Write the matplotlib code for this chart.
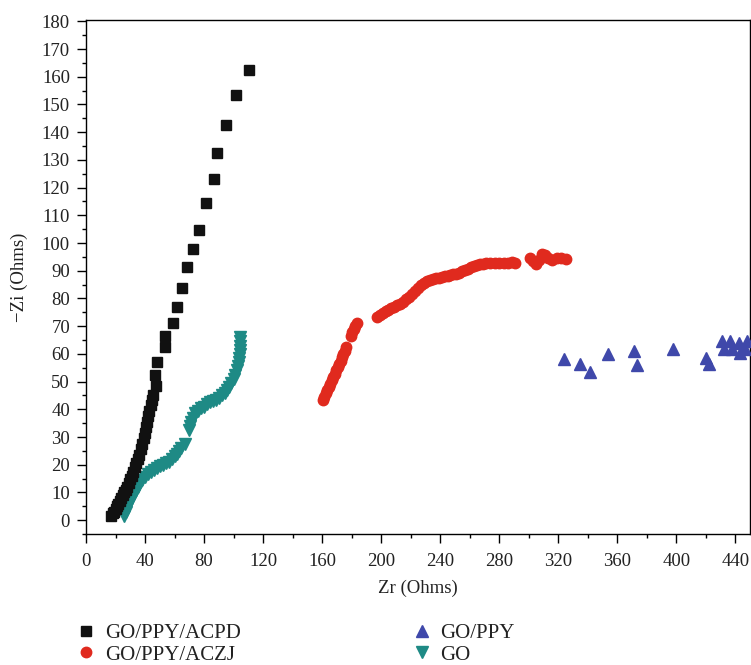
import matplotlib
matplotlib.use("Agg")
import matplotlib.pyplot as plt
from matplotlib.ticker import MultipleLocator

plt.rcParams["font.family"] = ["Liberation Serif", "DejaVu Serif"]

# ================== DATA ==================
acpd_x = [17, 18, 19, 20, 21, 22, 23, 24, 25, 26, 27, 28, 29, 30, 31, 32, 33, 34, 35, 36,
          37, 38, 39, 40, 40.8, 41.5, 42.2, 43, 43.8, 44.6, 45.5, 47.7, 46.8, 48.4, 53.6,
          53.3, 58.8, 61.7, 65.3, 68.5, 72.5, 76.4, 81.4, 86.6, 88.8, 95.1, 101.9, 110.7]
acpd_y = [1.5, 2.5, 3, 4, 5, 6, 7, 8, 9, 10, 11, 12, 13.5, 15, 16, 17.5, 19, 20.5, 22, 23.5,
          25.5, 27.5, 29.5, 31.5, 33.5, 35.5, 37.5, 39.5, 41.5, 43.5, 45, 48.3, 52.3, 56.9, 62.3,
          66.6, 71.3, 77, 83.8, 91.2, 98, 104.8, 114.6, 123, 132.6, 142.6, 153.3, 162.5]

aczj_x = [160.5, 161.5, 162.5, 163.5, 164.5, 165.5, 166.5, 167.5, 168.5, 169.5, 170.5, 171.5,
          172.5, 173.5, 174.5, 175.5, 176.5,
          179.5, 180.5, 181.5, 182.5, 183.5,
          197, 199, 201, 203, 205, 207, 209, 211, 213, 215, 217, 219, 221, 223, 225, 227, 229,
          231, 233, 235, 237, 239, 241, 243, 245, 247, 249, 251, 253, 255, 257, 259, 261, 263,
          265, 267, 269, 271, 274, 277, 280, 283, 286, 289, 291,
          301, 303, 305, 307, 309, 311, 313, 316, 319, 322, 325]
aczj_y = [43.5, 44.5, 45.7, 46.9, 48, 49.2, 50.4, 51.6, 52.8, 54, 55.2, 56.4,
          57.6, 58.8, 60, 61.2, 62.4,
          66.5, 67.8, 69, 70, 71,
          73.4, 74, 74.6, 75.3, 76, 76.5, 77, 77.5, 78, 78.8, 79.7, 80.6, 81.6, 82.7, 83.8, 84.8, 85.6,
          86.2, 86.6, 86.9, 87.2, 87.5, 87.8, 88, 88.2, 88.5, 88.8, 89, 89.3, 89.8, 90.3, 90.8, 91.3, 91.7,
          92.2, 92.5, 92.6, 92.8, 92.9, 92.7, 92.9, 92.8, 92.9, 93, 92.8,
          94.5, 93.5, 92.5, 94, 96, 95.5, 94.5, 94, 94.5, 94.6, 94.3]

ppy_x = [323.6, 334.5, 341.7, 353.7, 371.1, 373.3, 397.7, 420.1, 421.9, 431, 432.1,
         436.6, 437.8, 442.3, 443.4, 447.9, 446.8]
ppy_y = [58.2, 56.4, 53.4, 60, 61.2, 55.9, 61.6, 58.6, 56.5, 64.6, 61.6,
         64.6, 61.6, 64, 60.4, 64.6, 61.6]

go_x = [26, 27, 28, 29, 30, 31, 32, 33, 34, 35, 36, 37, 38, 40, 42, 44, 46, 48, 50, 52,
        54, 56, 58, 60, 61.5, 63, 64.5, 67, 69.5, 70.5, 71.5, 72.5, 74, 76, 78, 80, 82, 84, 86, 88,
        90, 92, 94, 95.5, 97, 98.5, 100, 101, 102, 102.8, 103.4, 104, 104.3, 104.5, 104.6, 104.6, 104.5]
go_y = [1.5, 3, 4.5, 6, 7, 8, 9, 10, 11, 12, 13, 14, 14.5, 15.5, 16.5, 17.3, 18, 18.8, 19.5, 20,
        20.5, 21, 22, 23, 24, 25, 26, 27.5, 32.5, 34, 35.5, 37, 38.5, 39.5, 40.5, 41, 41.8, 42.5, 43, 43.5,
        44.2, 45, 46, 47, 48, 49.5, 51, 52.5, 54, 55.5, 57, 58.5, 60, 61.5, 63, 64.5, 66]

labels = ["GO/PPY/ACPD", "GO/PPY/ACZJ", "GO/PPY", "GO"]

# ================== FIGURE ==================
fig = plt.figure(figsize=(7.51, 6.65), dpi=100)
ax = fig.add_axes([0.1145, 0.197, 0.8842, 0.773])

h1, = ax.plot(acpd_x, acpd_y, "s", color="#111111", ms=7.5, ls="none", zorder=4)
h2, = ax.plot(aczj_x, aczj_y, "o", color="#e02a1e", ms=7.5, ls="none", zorder=3)
h3, = ax.plot(ppy_x, ppy_y, "^", color="#3f48aa", ms=8.5, ls="none", zorder=3)
h4, = ax.plot(go_x, go_y, "v", color="#1e8a85", ms=8.5, ls="none", zorder=3)

ax.set_xlim(0, 450)
ax.set_ylim(-5, 180.5)
ax.xaxis.set_major_locator(MultipleLocator(40))
ax.xaxis.set_minor_locator(MultipleLocator(20))
ax.yaxis.set_major_locator(MultipleLocator(10))
ax.yaxis.set_minor_locator(MultipleLocator(5))
ax.tick_params(which="major", direction="out", length=6.5, width=1.0, labelsize=13.5,
               labelcolor="#222222")
ax.tick_params(which="minor", direction="out", length=3, width=1.0)
ax.tick_params(axis="y", pad=5)
ax.tick_params(axis="x", pad=7)
for sp in ax.spines.values():
    sp.set_linewidth(1.0)

ax.set_xlabel("Zr (Ohms)", fontsize=13.5, labelpad=7, color="#222222")
ax.set_ylabel("\u2212Zi (Ohms)", fontsize=13.5, labelpad=10, color="#222222")

leg_kw = dict(loc="upper left", frameon=False, fontsize=15, handlelength=0.6,
              handletextpad=0.6, labelspacing=0.1, borderaxespad=0)
leg1 = fig.legend([h1, h2], labels[:2], bbox_to_anchor=(0.095, 0.075), **leg_kw)
leg2 = fig.legend([h3, h4], labels[2:], bbox_to_anchor=(0.542, 0.075), **leg_kw)
for leg in (leg1, leg2):
    for txt in leg.get_texts():
        txt.set_color("#222222")

fig.savefig("out.png", dpi=100)
